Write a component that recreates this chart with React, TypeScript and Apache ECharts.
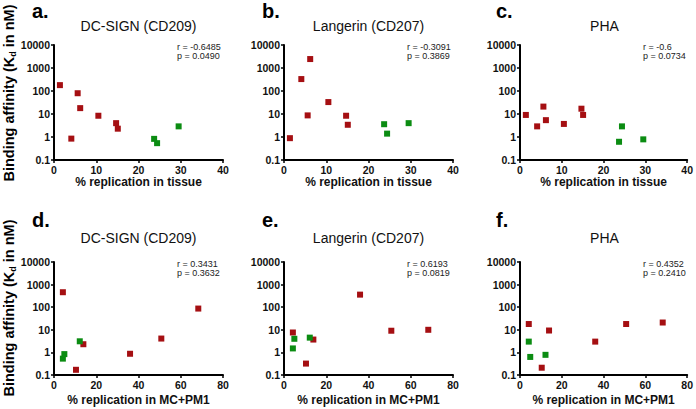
import React, { useEffect, useRef } from "react";
import * as echarts from "echarts";

const panelLetters = ["a.", "b.", "c.", "d.", "e.", "f."];
const panelTitles = ["DC-SIGN (CD209)", "Langerin (CD207)", "PHA", "DC-SIGN (CD209)", "Langerin (CD207)", "PHA"];
const rValues = ["-0.6485", "-0.3091", "-0.6", "0.3431", "0.6193", "0.4352"];
const pValues = ["0.0490", "0.3869", "0.0734", "0.3632", "0.0819", "0.2410"];
const xAxisNames = ["% replication in tissue", "% replication in MC+PM1"];
const xMax = [40, 80];
const xInterval = [10, 20];

const tissueRedX = [1.4, 4.1, 5.6, 6.2, 10.5, 14.7, 15.1];
const tissueGreenX = [23.7, 24.4, 29.5];
const mcRedX = [4.2, 10.4, 13.9, 36.0, 50.8, 68.3];
const mcGreenX = [4.2, 4.9, 12.2];

const dcTissueRed = [180, 0.85, 80, 18, 8.4, 4.0, 2.3];
const dcTissueGreen = [0.83, 0.54, 2.9];
const langTissueRed = [0.89, 330, 8.7, 2450, 33, 8.4, 3.4];
const langTissueGreen = [3.6, 1.4, 4.0];
const phaTissueRed = [9.1, 2.9, 21, 5.4, 3.7, 17, 9.1];
const phaTissueGreen = [0.62, 2.9, 0.79];
const dcMcRed = [460, 0.17, 2.3, 0.87, 4.1, 87];
const dcMcGreen = [0.53, 0.84, 3.1];
const langMcRed = [7.6, 0.32, 3.7, 360, 9.1, 10];
const langMcGreen = [1.5, 4.0, 4.5];
const phaMcRed = [18, 0.21, 9.3, 3.0, 18, 21];
const phaMcGreen = [3.0, 0.63, 0.78];

const redY = [dcTissueRed, langTissueRed, phaTissueRed, dcMcRed, langMcRed, phaMcRed];
const greenY = [dcTissueGreen, langTissueGreen, phaTissueGreen, dcMcGreen, langMcGreen, phaMcGreen];

const RED = "#a50f12";
const GREEN = "#0b8c12";
const FONT = "Liberation Sans, Arial, sans-serif";

const gridLefts = [54, 284, 520];
const gridTops = [45, 262];
const gridHeights = [115, 113];
const gridWidth = 169;
const nameGaps = [15, 19];

function zip(xs: number[], ys: number[]) {
  return xs.map((x, i) => [x, ys[i]]);
}

export default function App() {
  const ref = useRef<HTMLDivElement>(null);
  useEffect(() => {
    if (!ref.current) return;
    const chart = echarts.init(ref.current, null, { renderer: "svg" });
    const grids: any[] = [];
    const xAxes: any[] = [];
    const yAxes: any[] = [];
    const series: any[] = [];
    const graphics: any[] = [];
    for (let i = 0; i < 6; i++) {
      const row = i < 3 ? 0 : 1;
      const col = i % 3;
      const left = gridLefts[col];
      const top = gridTops[row];
      const h = gridHeights[row];
      grids.push({ left, top, width: gridWidth, height: h, containLabel: false });
      xAxes.push({
        type: "value",
        gridIndex: i,
        min: 0,
        max: xMax[row],
        interval: xInterval[row],
        name: xAxisNames[row],
        nameLocation: "middle",
        nameGap: nameGaps[row],
        nameTextStyle: { fontFamily: FONT, fontWeight: "bold", fontSize: 12, color: "#111", verticalAlign: "top" },
        axisLine: { show: true, onZero: false, lineStyle: { color: "#000", width: 2 } },
        axisTick: { show: true, length: 3, lineStyle: { color: "#000", width: 1.5 } },
        axisLabel: { fontFamily: FONT, fontWeight: "bold", fontSize: 10.5, color: "#111", margin: 4 },
        splitLine: { show: false },
      });
      yAxes.push({
        type: "log",
        logBase: 10,
        gridIndex: i,
        min: 0.1,
        max: 10000,
        axisLine: { show: true, onZero: false, lineStyle: { color: "#000", width: 2 } },
        axisTick: { show: true, length: 3, lineStyle: { color: "#000", width: 1.5 } },
        axisLabel: {
          fontFamily: FONT,
          fontWeight: "bold",
          fontSize: 10.5,
          color: "#111",
          margin: 4,
          formatter: (v: number) => (v < 1 ? "0.1" : String(Math.round(v))),
        },
        splitLine: { show: false },
        minorTick: { show: false },
      });
      series.push({
        type: "scatter",
        xAxisIndex: i,
        yAxisIndex: i,
        symbol: "rect",
        symbolSize: 6,
        itemStyle: { color: RED, opacity: 1 },
        data: zip(row === 0 ? tissueRedX : mcRedX, redY[i]),
      });
      series.push({
        type: "scatter",
        xAxisIndex: i,
        yAxisIndex: i,
        symbol: "rect",
        symbolSize: 6,
        itemStyle: { color: GREEN, opacity: 1 },
        data: zip(row === 0 ? tissueGreenX : mcGreenX, greenY[i]),
      });
      graphics.push({
        type: "text",
        x: left - 22 + (col === 2 ? -2 : 0),
        y: row === 0 ? 11 : 220,
        style: {
          text: panelLetters[i],
          font: `bold 20px ${FONT}`,
          fill: "#000",
          verticalAlign: "middle",
          align: "left",
        },
      });
      graphics.push({
        type: "text",
        x: left + gridWidth / 2,
        y: row === 0 ? 26 : 238,
        style: {
          text: panelTitles[i],
          font: `14px ${FONT}`,
          fill: "#111",
          verticalAlign: "middle",
          align: "center",
        },
      });
      graphics.push({
        type: "text",
        x: left + 123,
        y: row === 0 ? 42.5 : 259.5,
        style: {
          text: `r = ${rValues[i]}\np = ${pValues[i]}`,
          font: `9px ${FONT}`,
          lineHeight: 9,
          fill: "#222",
          verticalAlign: "top",
          align: "left",
        },
      });
    }
    for (let row = 0; row < 2; row++) {
      graphics.push({
        type: "text",
        x: 9,
        y: row === 0 ? 93 : 308,
        rotation: Math.PI / 2,
        style: {
          text: "{a|Binding affinity (K}{s|d}{a| in nM)}",
          align: "center",
          verticalAlign: "middle",
          rich: {
            a: { fontFamily: FONT, fontWeight: "bold", fontSize: 14.5, color: "#111", lineHeight: 17 },
            s: { fontFamily: FONT, fontWeight: "bold", fontSize: 9, color: "#111", lineHeight: 10, verticalAlign: "bottom" },
          },
        },
      });
    }
    chart.setOption({
      animation: false,
      backgroundColor: "#fff",
      grid: grids,
      xAxis: xAxes,
      yAxis: yAxes,
      series,
      graphic: graphics,
    });
    return () => chart.dispose();
  }, []);
  return <div ref={ref} style={{ position: "fixed", left: 0, top: 0, width: 696, height: 409 }} />;
}
